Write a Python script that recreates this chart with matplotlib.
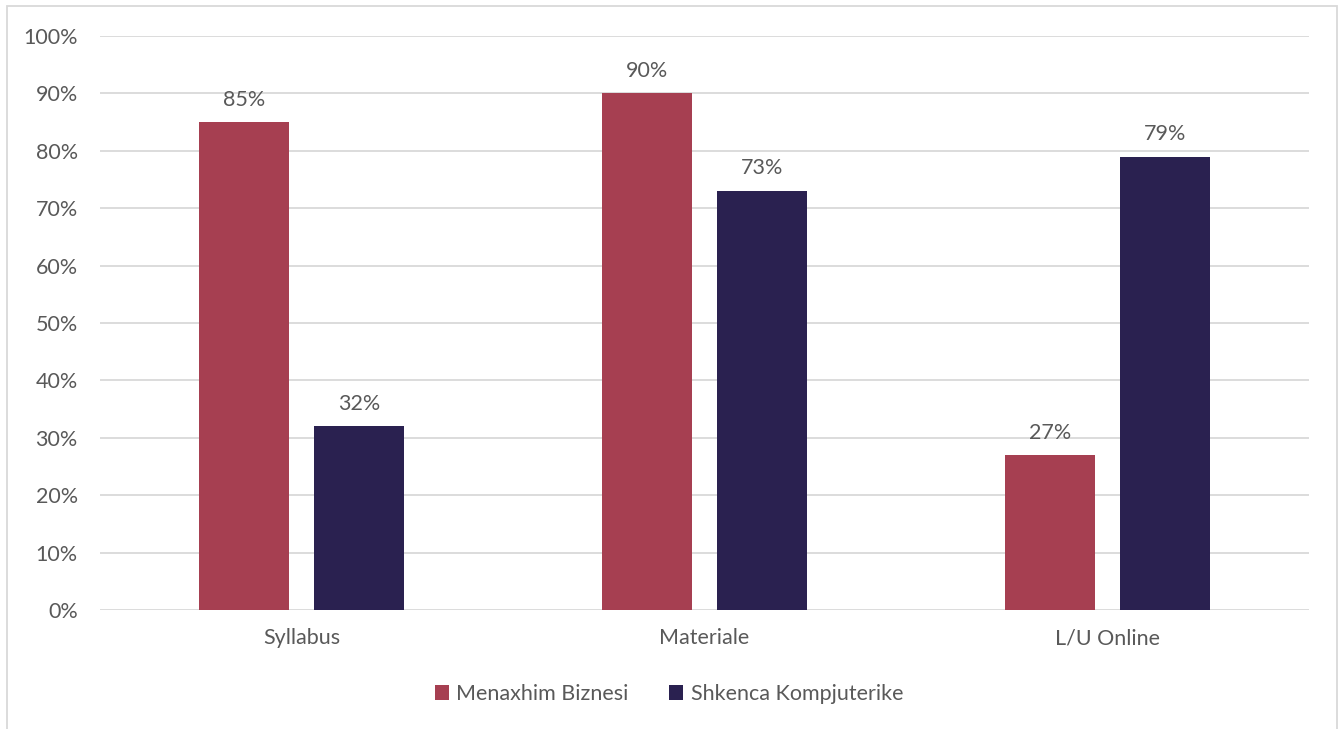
import matplotlib.pyplot as plt
import numpy as np
from matplotlib.patches import Rectangle

categories = ["Syllabus", "Materiale", "L/U Online"]
menaxhim = [85, 90, 27]
shkenca = [32, 73, 79]
series_names = ["Menaxhim Biznesi", "Shkenca Kompjuterike"]
colors = ["#A63F51", "#2A2150"]
text_color = "#595959"
fs = 15.5

plt.rcParams["font.family"] = ["Lato", "DejaVu Sans"]

fig = plt.figure(figsize=(13.38, 7.29), dpi=100)
W, H = 1338, 729
ax = fig.add_axes([100 / W, 1 - 610 / H, 1209 / W, (610 - 36) / H])

x = np.arange(len(categories))
width = 0.223
offset = 0.1427
for vals, dx, col, name in [(menaxhim, -offset, colors[0], series_names[0]),
                            (shkenca, offset, colors[1], series_names[1])]:
    bars = ax.bar(x + dx, vals, width, color=col, label=name, zorder=3)
    for b, v in zip(bars, vals):
        ax.annotate(f"{v}%", (b.get_x() + b.get_width() / 2, v),
                    xytext=(0, 9), textcoords="offset points",
                    ha="center", va="bottom", fontsize=fs, color=text_color)

ax.set_xlim(-0.5, 2.5)
ax.set_ylim(0, 100)
ax.set_yticks(range(0, 101, 10))
ax.set_yticklabels([f"{t}%" for t in range(0, 101, 10)])
ax.set_xticks(x)
ax.set_xticklabels(categories)
ax.tick_params(axis="both", length=0, labelsize=fs, labelcolor=text_color)
ax.tick_params(axis="y", pad=16)
ax.tick_params(axis="x", pad=13)
ax.grid(axis="y", color="#D9D9D9", linewidth=1.3, zorder=0)
for s in ax.spines.values():
    s.set_visible(False)

leg = fig.legend(loc="center", bbox_to_anchor=(0.5, 1 - 694 / H), ncol=2,
                 frameon=False, fontsize=fs, handlelength=0.65, handleheight=0.65,
                 handletextpad=0.35, columnspacing=1.9)
for t in leg.get_texts():
    t.set_color(text_color)

fig.patches.append(Rectangle((7 / W, -0.01), (1337 - 7) / W, 1 - 6 / H + 0.01,
                             transform=fig.transFigure, fill=False,
                             edgecolor="#D9D9D9", linewidth=1.3))

fig.savefig("out.png", dpi=100)
